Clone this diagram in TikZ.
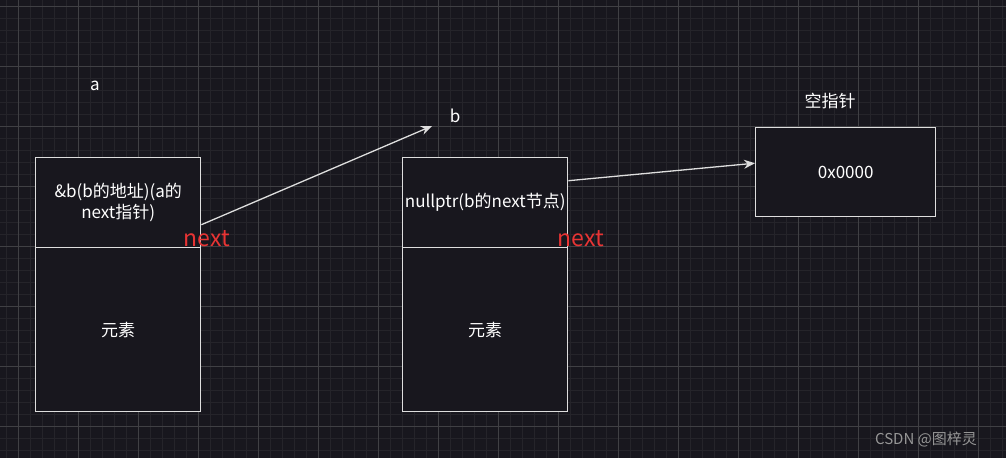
\documentclass[tikz,border=0pt]{standalone}
\usepackage{fontspec}
\setmainfont{Noto Sans CJK SC}
\usetikzlibrary{arrows.meta, positioning, calc}
\definecolor{bgdark}{RGB}{24,23,30}
\definecolor{gridminor}{RGB}{37,36,42}
\definecolor{gridmajor}{RGB}{64,64,68}
\definecolor{boxline}{RGB}{222,222,222}
\definecolor{nextred}{RGB}{232,52,52}
\definecolor{markgray}{RGB}{150,150,150}

\begin{document}
\begin{tikzpicture}[x=1pt, y=-1pt,
  cell/.style={draw=boxline, line width=1.4pt, fill=bgdark, anchor=north west,
    text=white, align=center, inner sep=1pt, font=\fontsize{17}{21}\selectfont},
  tag/.style={text=white, inner sep=0pt, font=\fontsize{17}{19}\selectfont},
  nextlbl/.style={text=nextred, inner sep=0pt, font=\fontsize{23}{26}\selectfont},
  link/.style={draw=boxline, line width=1.3pt, -{Stealth[length=11pt, width=9pt]}}]

  % background and grid
  \fill[bgdark] (0,0) rectangle (1006,458);
  \useasboundingbox (0,0) rectangle (1006,458);
  \foreach \gx in {6,18,...,1006} \draw[gridminor, line width=1pt] (\gx,0) -- (\gx,458);
  \foreach \gy in {6,18,...,458} \draw[gridminor, line width=1pt] (0,\gy) -- (1006,\gy);
  \foreach \gx in {18,78,...,1006} \draw[gridmajor, line width=1pt] (\gx,0) -- (\gx,458);
  \foreach \gy in {6,66,...,458} \draw[gridmajor, line width=1pt] (0,\gy) -- (1006,\gy);

  % node a
  \node[cell, minimum width=165pt, minimum height=90pt] (aTop) at (35,157)
    {\&b(b的地址)(a的\\next指针)};
  \node[cell, minimum width=165pt, minimum height=164pt] (aElem) at (35,247) {元素};
  \node[tag] (aName) at (95,86) {a};
  \node[nextlbl] (aNext) at (207,239) {next};

  % node b
  \node[cell, minimum width=165pt, minimum height=90pt] (bTop) at (402,157)
    {nullptr(b的next节点)};
  \node[cell, minimum width=165pt, minimum height=164pt] (bElem) at (402,247) {元素};
  \node[tag] (bName) at (455,116) {b};
  \node[nextlbl] (bNext) at (581,239) {next};

  % null pointer
  \node[cell, minimum width=180pt, minimum height=89pt] (nullBox) at (755,127) {0x0000};
  \node[tag] (nullName) at (830,101) {空指针};

  % links
  \coordinate (bPtr) at (432,126);
  \draw[link] ($(aTop.east)+(0,22)$) -- (bPtr);
  \draw[link] ($(bTop.east)+(0,-22)$) -- ($(nullBox.west)+(0,-9)$);

  \node[text=markgray, inner sep=0pt, font=\fontsize{15}{17}\selectfont] (mark) at (926,439) {CSDN @图梓灵};
\end{tikzpicture}
\end{document}
